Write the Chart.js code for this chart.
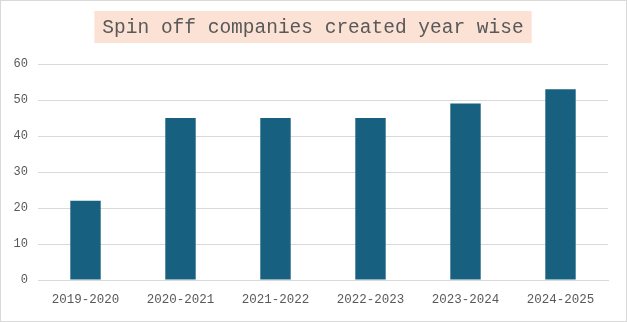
<!DOCTYPE html>
<html>
<head>
<meta charset="utf-8">
<script src="https://cdn.jsdelivr.net/npm/chart.js@4"></script>
<style>
  html, body { margin: 0; padding: 0; background: #fff; }
  #wrap { position: relative; width: 627px; height: 322px; box-sizing: border-box; border: 1px solid #d9d9d9; }
  canvas { position: absolute; left: -1px; top: -1px; }
</style>
</head>
<body>
<div id="wrap"><canvas id="chart" width="627" height="322"></canvas></div>
<script>
const TITLE = 'Spin off companies created year wise';
const years = ['2019-2020', '2020-2021', '2021-2022', '2022-2023', '2023-2024', '2024-2025'];
const companies = [22, 45, 45, 45, 49, 53];
const yTicks = [0, 10, 20, 30, 40, 50, 60];

// title with the peach box behind it
const titleBox = {
    id: 'titleBox',
    afterDraw(chart) {
        const c = chart.ctx;
        c.save();
        c.font = '19.5px "Liberation Mono", monospace';
        const w = c.measureText(TITLE).width;
        const cx = 313, cy = 27;
        c.fillStyle = '#fbe2d5';
        c.fillRect(cx - w / 2 - 8, cy - 16, w + 16, 32);
        c.fillStyle = '#595959';
        c.textAlign = 'center';
        c.textBaseline = 'middle';
        c.fillText(TITLE, cx, cy + 1);
        c.restore();
    }
};

new Chart(document.getElementById('chart'), {
    type: 'bar',
    data: {
        labels: years,
        datasets: [{
            data: companies,
            backgroundColor: '#17607f',
            categoryPercentage: 1,
            barPercentage: 0.32
        }]
    },
    options: {
        responsive: false,
        animation: false,
        layout: { padding: { top: 64, right: 19, left: 0, bottom: 0 } },
        plugins: { legend: { display: false }, tooltip: { enabled: false } },
        scales: {
            x: {
                grid: { display: false, drawTicks: false },
                border: { color: '#d9d9d9' },
                ticks: { color: '#595959', font: { family: '"Liberation Mono", monospace', size: 12.5 }, padding: 12, maxRotation: 0 },
                afterFit(s) { s.height = 42; }
            },
            y: {
                min: 0, max: 60,
                afterBuildTicks(s) { s.ticks = yTicks.map(v => ({ value: v })); },
                grid: { color: '#d9d9d9', drawTicks: false },
                border: { display: false },
                ticks: { color: '#595959', font: { family: '"Liberation Mono", monospace', size: 12 }, padding: 10 },
                afterFit(s) { s.width = 38; }
            }
        }
    },
    plugins: [titleBox]
});
</script>
</body>
</html>
